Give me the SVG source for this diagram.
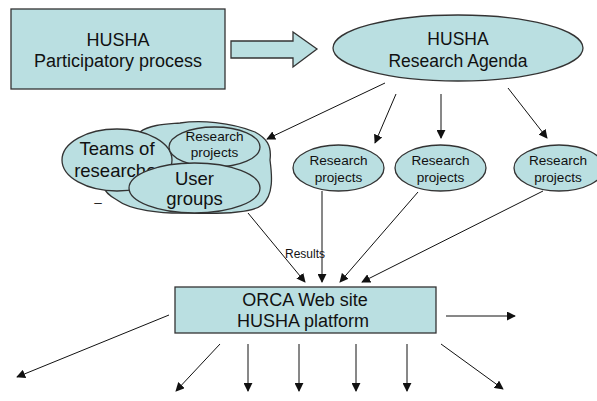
<svg xmlns="http://www.w3.org/2000/svg" width="597" height="401" viewBox="0 0 597 401">
<style>
.f{fill:#badfe1;stroke:#333;stroke-width:1.3}
.t{font-family:"Liberation Sans",Arial,sans-serif;fill:#111;text-anchor:middle}
.l{font-size:18px}
.s{font-size:13.6px}
.c line{stroke:#111;stroke-width:1;marker-end:url(#ah)}
</style>
<defs>
<marker id="ah" viewBox="0 0 10 10" refX="9" refY="5" markerWidth="9" markerHeight="9" markerUnits="userSpaceOnUse" orient="auto">
<path d="M0,0 L10,5 L0,10 z" fill="#111"/>
</marker>
</defs>
<rect width="597" height="401" fill="#fff"/>
<g id="participatory">
<rect class="f" x="11" y="9" width="214" height="80"/>
<text class="t l" x="118" y="46">HUSHA</text>
<text class="t l" x="118" y="67">Participatory process</text>
</g>
<g id="blockarrow">
<path class="f" d="M231,41 H293 V32 L317,49 L293,67 V58 H231 Z"/>
</g>
<g id="agenda">
<ellipse class="f" cx="458" cy="48" rx="125" ry="33"/>
<text class="t" x="458" y="45" style="font-size:17.5px">HUSHA</text>
<text class="t" x="458" y="67" style="font-size:17.5px">Research Agenda</text>
</g>
<g id="cluster">
<path class="f" d="M140,132 C150,124 170,124 180,123 C200,120 230,122 255,132 C266,138 272,145 270,160 C272,175 274,195 262,205 C252,213 220,214 190,213 C160,214 130,210 117,200 C108,195 104,190 105,187 C95,180 98,160 115,150 C125,140 132,135 140,132 Z"/>
<ellipse class="f" cx="117" cy="160" rx="55" ry="31"/>
<text class="t" x="117" y="155" style="font-size:18.5px">Teams of</text>
<text class="t" x="123" y="177" style="font-size:18.5px">researchers</text>
<ellipse class="f" cx="214.5" cy="147" rx="45.5" ry="20"/>
<text class="t s" x="214.5" y="141">Research</text>
<text class="t s" x="214.5" y="157">projects</text>
<ellipse class="f" cx="194.5" cy="188" rx="65.5" ry="25"/>
<text class="t" x="194.5" y="185" style="font-size:18.5px">User</text>
<text class="t" x="194.5" y="205" style="font-size:18.5px">groups</text>
<text class="t s" x="98" y="207">–</text>
</g>
<g id="rp1">
<ellipse class="f" cx="338.5" cy="168" rx="45.5" ry="23"/>
<text class="t s" x="338.5" y="165">Research</text>
<text class="t s" x="338.5" y="182">projects</text>
</g>
<g id="rp2">
<ellipse class="f" cx="440.5" cy="168" rx="45.5" ry="23"/>
<text class="t s" x="440.5" y="165">Research</text>
<text class="t s" x="440.5" y="182">projects</text>
</g>
<g id="rp3">
<ellipse class="f" cx="559" cy="168" rx="45" ry="23"/>
<text class="t s" x="558" y="165">Research</text>
<text class="t s" x="558" y="182">projects</text>
</g>
<g id="orca">
<rect class="f" x="175" y="287" width="261" height="46"/>
<text class="t l" x="305" y="306">ORCA Web site</text>
<text class="t l" x="303" y="327">HUSHA platform</text>
</g>
<g id="connectors" class="c">
<line x1="385" y1="83" x2="267" y2="139"/>
<line x1="396" y1="94" x2="375" y2="143"/>
<line x1="441" y1="94" x2="441" y2="138"/>
<line x1="508" y1="88" x2="547" y2="138"/>
<line x1="248" y1="213" x2="305" y2="282"/>
<line x1="322" y1="191" x2="322" y2="282"/>
<line x1="418" y1="192" x2="340" y2="282"/>
<line x1="543" y1="191" x2="362" y2="282"/>
<line x1="446" y1="316" x2="515" y2="316"/>
<line x1="169" y1="315" x2="17" y2="377"/>
<line x1="220" y1="344" x2="176" y2="391"/>
<line x1="248" y1="344" x2="248" y2="391"/>
<line x1="299" y1="344" x2="299" y2="391"/>
<line x1="356" y1="344" x2="356" y2="391"/>
<line x1="407" y1="344" x2="407" y2="391"/>
<line x1="441" y1="344" x2="503" y2="389"/>
</g>
<text class="t" x="305" y="258" style="font-size:12px">Results</text>
</svg>
